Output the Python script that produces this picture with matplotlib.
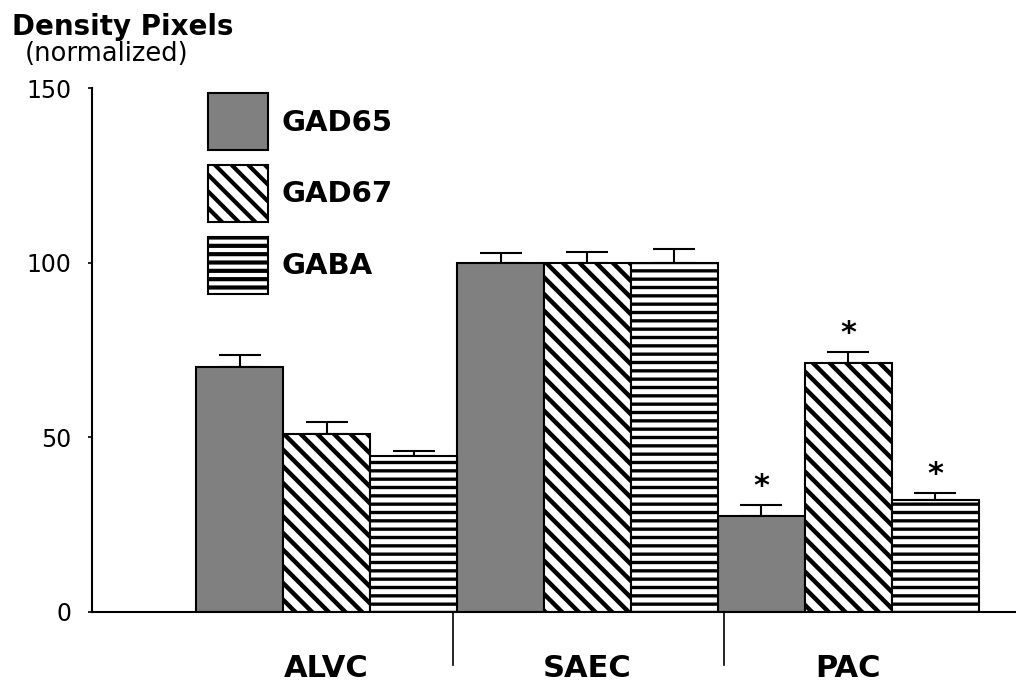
import numpy as np
import matplotlib
matplotlib.use("Agg")
from matplotlib import pyplot as plt

categories = ["ALVC", "SAEC", "PAC"]
series = ["GAD65", "GAD67", "GABA"]
gad65 = [70, 100, 27.5]
gad67 = [51, 100, 71.4]
gaba = [44.7, 100, 32]
gad65_err = [3.5, 2.7, 3.0]
gad67_err = [3.3, 3.2, 3.1]
gaba_err = [1.5, 4.0, 2.0]
gad65_sig = [False, False, True]
gad67_sig = [False, False, True]
gaba_sig = [False, False, True]
y_ticks = [0, 50, 100, 150]

plt.rcParams["font.family"] = ["DejaVu Sans"]

fig = plt.figure(figsize=(10.16, 6.83), dpi=100)
ax = fig.add_axes([0.0906, 0.104, 0.9094, 0.767])

x = np.arange(len(categories))
w = 1 / 3
styles = [
    dict(color="#808080", hatch=None, hlw=1.0),
    dict(color="white", hatch="\\\\", hlw=3.2),
    dict(color="white", hatch="--", hlw=2.4),
]
values = [gad65, gad67, gaba]
errors = [gad65_err, gad67_err, gaba_err]
sigs = [gad65_sig, gad67_sig, gaba_sig]

for i, name in enumerate(series):
    pos = x + (i - 1) * w
    with plt.rc_context({"hatch.linewidth": styles[i]["hlw"]}):
        ax.bar(pos, values[i], width=w, color=styles[i]["color"],
               hatch=styles[i]["hatch"], edgecolor="black", linewidth=1.5,
               label=name, zorder=2)
    ax.errorbar(pos, values[i], yerr=[np.zeros(len(pos)), errors[i]],
                fmt="none", ecolor="black", elinewidth=1.5, capsize=15,
                capthick=1.5, zorder=1)
    for p, v, e, s in zip(pos, values[i], errors[i], sigs[i]):
        if s:
            ax.text(p, v + e + 1.2, "*", ha="center", va="bottom",
                    fontsize=22, fontweight="bold")

ax.set_xlim(-0.8985, 2.642)
ax.set_ylim(0, 150)
ax.set_yticks(y_ticks)
ax.tick_params(axis="y", length=3, width=1.2, labelsize=17, pad=12)
ax.set_xticks(x)
ax.set_xticklabels(categories, fontsize=22, fontweight="bold")
ax.tick_params(axis="x", length=0, pad=30)
ax.spines["top"].set_visible(False)
ax.spines["right"].set_visible(False)
ax.spines["left"].set_linewidth(1.5)
ax.spines["bottom"].set_linewidth(1.5)

# group separators below the axis
trans = ax.get_xaxis_transform()
for xd in [0.483, 1.523]:
    ax.plot([xd, xd], [0, -0.101], color="black", linewidth=1.2,
            transform=trans, clip_on=False)

with plt.rc_context({"hatch.linewidth": 3.0}):
    ax.legend(loc="upper left", bbox_to_anchor=(0.1255, 0.99), frameon=False,
              borderpad=0, borderaxespad=0,
              prop=dict(size=21, weight="bold"),
              handlelength=2.05, handleheight=2.63, handletextpad=0.48,
              labelspacing=0.5)

fig.text(12 / 1016, 1 - 35 / 683, "Density Pixels", fontsize=20,
         fontweight="bold", va="baseline", ha="left")
fig.text(25 / 1016, 1 - 61 / 683, "(normalized)", fontsize=18.5,
         va="baseline", ha="left")

fig.savefig("out.png", dpi=100)
